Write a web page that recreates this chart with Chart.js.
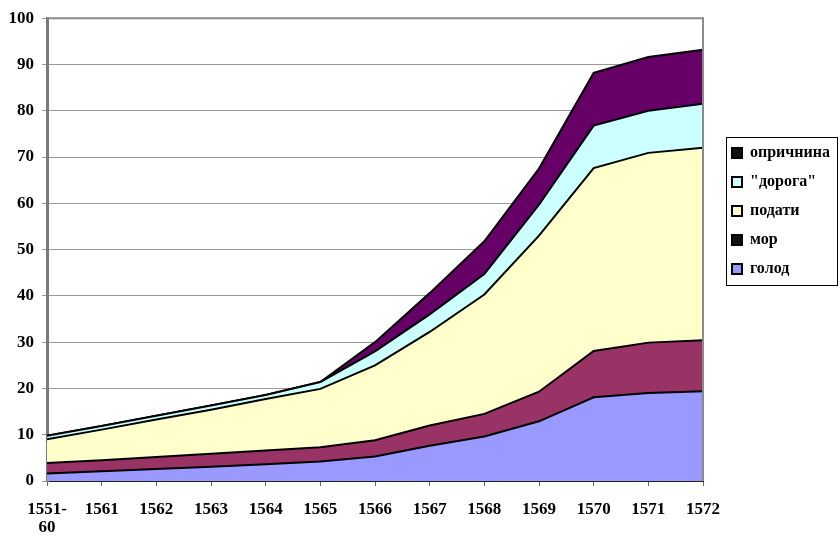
<!DOCTYPE html>
<html>
<head>
<meta charset="utf-8">
<script src="https://cdn.jsdelivr.net/npm/chart.js@4"></script>
<style>
  html, body { margin:0; padding:0; background:#fff; }
  #wrap { width:840px; height:537px; position:relative; }
</style>
</head>
<body>
<div id="wrap"><canvas id="c" width="840" height="537"></canvas></div>
<script>
const categories = [['1551-','60'],'1561','1562','1563','1564','1565','1566','1567','1568','1569','1570','1571','1572'];
const golod      = [1.6, 2.1, 2.6, 3.1, 3.6, 4.2, 5.3, 7.6, 9.6, 12.9, 18.1, 19.0, 19.4];
const mor        = [2.3, 2.4, 2.6, 2.8, 3.0, 3.1, 3.5, 4.4, 4.9, 6.4, 10.0, 10.9, 11.0];
const podati     = [5.1, 6.6, 8.1, 9.5, 11.1, 12.6, 16.2, 20.2, 25.8, 33.7, 39.5, 41.0, 41.6];
const doroga     = [0.8, 0.8, 0.8, 0.9, 0.9, 1.5, 3.0, 3.8, 4.4, 6.7, 9.2, 9.1, 9.5];
const oprichnina = [0, 0, 0, 0, 0, 0, 2.0, 4.6, 7.1, 7.8, 11.4, 11.6, 11.7];
const seriesNames = ['голод', 'мор', 'подати', '"дорога"', 'опричнина'];
const yTicks = [0, 10, 20, 30, 40, 50, 60, 70, 80, 90, 100];

const fills = ['#9999FF', '#993366', '#FFFFCC', '#CCFFFF', '#660066'];
const legendFills = ['#9999FF', '#111111', '#FFFFCC', '#CCFFFF', '#111111'];
const FONT = '"Liberation Serif", "Times New Roman", serif';

const seriesData = [golod, mor, podati, doroga, oprichnina];
const datasets = seriesData.map((d, i) => ({
  label: seriesNames[i],
  data: d,
  backgroundColor: fills[i],
  borderColor: '#000',
  borderWidth: 2,
  pointRadius: 0,
  tension: 0,
  fill: i === 0 ? 'origin' : '-1'
}));

const framePlugin = {
  id: 'frame',
  afterUpdate(chart) {
    const lg = chart.legend;
    if (!lg) return;
    lg.left = 719; lg.top = 132;
    lg.width = 120; lg.height = 200;
    lg.right = lg.left + lg.width; lg.bottom = lg.top + lg.height;
  },
  afterDraw(chart) {
    const ctx = chart.ctx, a = chart.chartArea;
    ctx.save();
    ctx.strokeStyle = '#8a8a8a';
    ctx.lineWidth = 2;
    ctx.beginPath();
    ctx.moveTo(a.left, a.top);
    ctx.lineTo(a.right, a.top);
    ctx.lineTo(a.right, a.bottom);
    ctx.stroke();
    const lg = chart.legend;
    ctx.strokeStyle = '#000';
    ctx.lineWidth = 1;
    ctx.strokeRect(lg.left + 7.5, lg.top + 5.5, 111, 148);
    ctx.restore();
  }
};

new Chart(document.getElementById('c'), {
  type: 'line',
  data: { labels: categories, datasets },
  options: {
    responsive: false,
    animation: false,
    layout: { padding: { top: 17, right: 137, left: 0, bottom: 0 } },
    plugins: {
      tooltip: { enabled: false },
      legend: {
        position: 'chartArea',
        align: 'start',
        reverse: true,
        labels: {
          color: '#000',
          font: { family: FONT, size: 16, weight: 'bold' },
          boxWidth: 10,
          boxHeight: 10,
          padding: 13,
          generateLabels(chart) {
            return chart.data.datasets.map((ds, i) => ({
              text: ds.label,
              fillStyle: legendFills[i],
              strokeStyle: '#000',
              lineWidth: 2,
              hidden: false,
              datasetIndex: i,
              fontColor: '#000'
            }));
          }
        }
      }
    },
    scales: {
      x: {
        offset: false,
        afterFit(s) { s.height = 56; },
        grid: { drawOnChartArea: false, drawTicks: true, tickLength: 5, color: '#666' },
        border: { color: '#222', width: 2 },
        ticks: {
          color: '#000',
          padding: 14,
          maxRotation: 0,
          autoSkip: false,
          font: { family: FONT, size: 17, weight: 'bold', lineHeight: 1.1 }
        }
      },
      y: {
        stacked: true,
        min: 0,
        max: 100,
        afterFit(s) { s.width = 47; },
        afterBuildTicks(s) { s.ticks = yTicks.map(v => ({ value: v })); },
        grid: { color: '#999', lineWidth: 1, tickLength: 5 },
        border: { color: '#7a7a7a', width: 3 },
        ticks: {
          color: '#000',
          padding: 8,
          font: { family: FONT, size: 17, weight: 'bold' }
        }
      }
    }
  },
  plugins: [framePlugin]
});
</script>
</body>
</html>
